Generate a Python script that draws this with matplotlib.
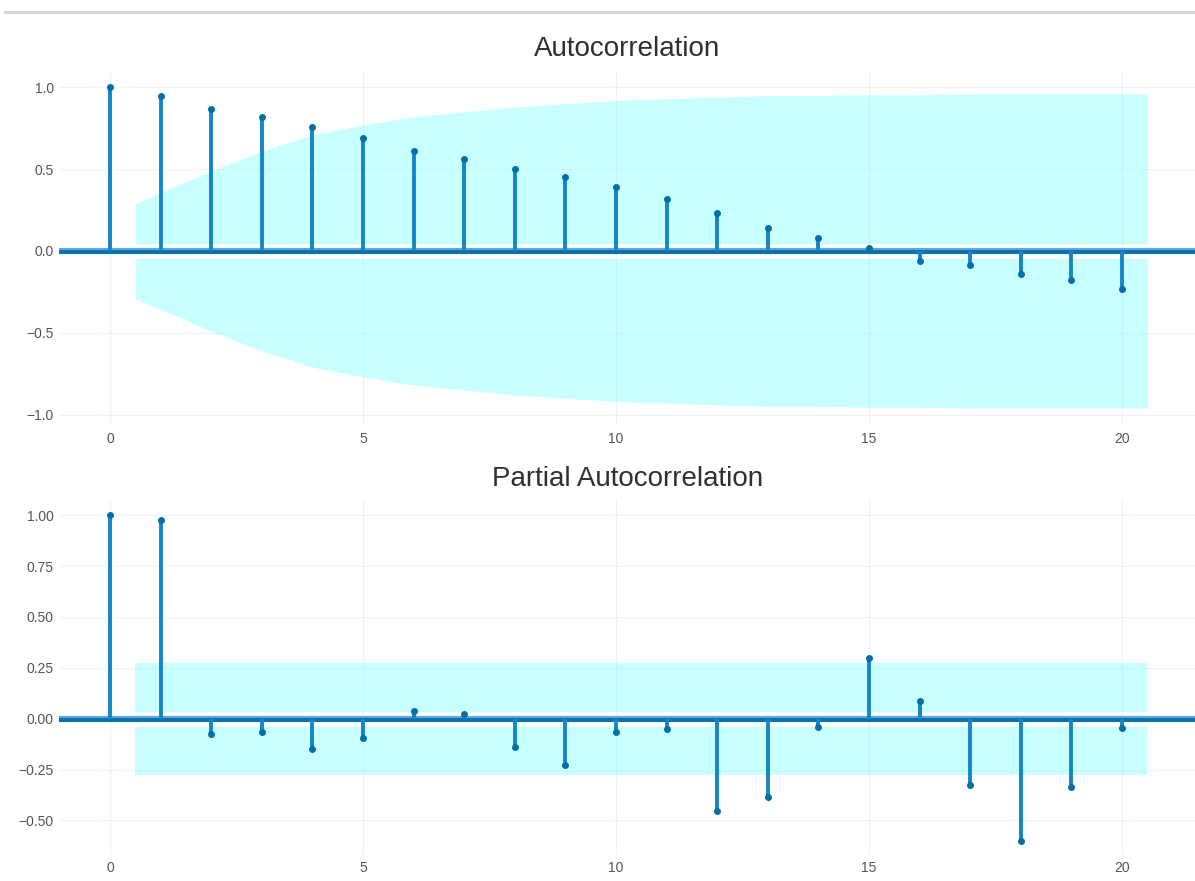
import numpy as np
import matplotlib
matplotlib.use("Agg")
import matplotlib.pyplot as plt
from matplotlib.lines import Line2D
from matplotlib.transforms import offset_copy

FONT = ['Liberation Sans', 'DejaVu Sans']
plt.rcParams['font.family'] = FONT

lags = list(range(0, 21))
acf_values = [1.00, 0.945, 0.87, 0.82, 0.76, 0.69, 0.61, 0.56, 0.50, 0.45, 0.39,
              0.32, 0.23, 0.14, 0.08, 0.02, -0.06, -0.085, -0.14, -0.18, -0.23]
acf_band = [0.29, 0.49, 0.61, 0.71, 0.77, 0.82, 0.85, 0.88, 0.90, 0.92,
            0.93, 0.94, 0.95, 0.95, 0.955, 0.955, 0.96, 0.96, 0.96, 0.96]  # lags 1..20
pacf_values = [1.00, 0.975, -0.075, -0.065, -0.15, -0.095, 0.04, 0.025, -0.14, -0.23, -0.065,
               -0.05, -0.455, -0.385, -0.04, 0.30, 0.085, -0.325, -0.60, -0.335, -0.045]
pacf_band = [0.275] * 20  # lags 1..20
acf_yticks = [-1.0, -0.5, 0.0, 0.5, 1.0]
acf_yticklabels = ['\u22121.0', '\u22120.5', '0.0', '0.5', '1.0']
pacf_yticks = [-0.50, -0.25, 0.0, 0.25, 0.50, 0.75, 1.00]
pacf_yticklabels = ['\u22120.50', '\u22120.25', '0.00', '0.25', '0.50', '0.75', '1.00']
xticks = [0, 5, 10, 15, 20]

W, H = 1195, 881
fig = plt.figure(figsize=(W / 100, H / 100), dpi=100)

# top separator line from the screenshot
fig.add_artist(Line2D([5 / W, 1.0], [1 - 12 / H] * 2, transform=fig.transFigure,
                      color='#d4d4d4', lw=2.2))

def px_axes(top, bottom):
    left = 59.4 / W
    return [left, 1 - bottom / H, 1 - left, (bottom - top) / H]

def draw(ax, values, band, title, ylim, yticks, yticklabels, pad):
    x = np.array(lags, dtype=float)
    v = np.array(values)
    bx = x[1:].copy()
    bx[0] -= 0.5
    bx[-1] += 0.5
    b = np.array(band)
    ax.fill_between(bx, -b, b, color='#c8ffff', lw=0, zorder=1)
    ax.set_xlim(-1, (W - 110) / 50.6)
    ax.set_ylim(*ylim)
    ax.grid(True, color='#c8dcf2', lw=0.8, alpha=0.35, zorder=1.5)
    ax.set_axisbelow(False)
    # zero line with white halo
    ax.axhline(0, color='white', lw=10.5, zorder=2)
    ax.axhline(0, color='#0a74a8', lw=4.4, zorder=3)
    tr = offset_copy(ax.get_yaxis_transform(), fig=fig, x=0, y=1.3, units='points')
    ax.plot([0, 1], [0, 0], transform=tr, color='#5ea8ee', lw=1.4, zorder=3.5)
    ax.vlines(x, 0, v, color='#1486c6', lw=2.8, zorder=4)
    ax.plot(x, v, 'o', color='#0070a6', ms=4.0, mec='#0070a6', zorder=5)
    for s in ax.spines.values():
        s.set_visible(False)
    ax.set_xticks(xticks)
    ax.set_xticklabels([str(t) for t in xticks])
    ax.set_yticks(yticks)
    ax.set_yticklabels(yticklabels)
    ax.tick_params(length=0, labelsize=10, labelcolor='#555555', pad=4)
    ax.set_title(title, fontsize=20, color='#303030', pad=pad, family=FONT)
    ax.set_facecolor('white')

ax1 = fig.add_axes(px_axes(71, 426))
draw(ax1, acf_values, acf_band, 'Autocorrelation', (-1.07, 1.10),
     acf_yticks, acf_yticklabels, 11)
ax2 = fig.add_axes(px_axes(499, 855))
draw(ax2, pacf_values, pacf_band, 'Partial Autocorrelation', (-0.67, 1.08),
     pacf_yticks, pacf_yticklabels, 9)

fig.savefig('out.png', dpi=100)
